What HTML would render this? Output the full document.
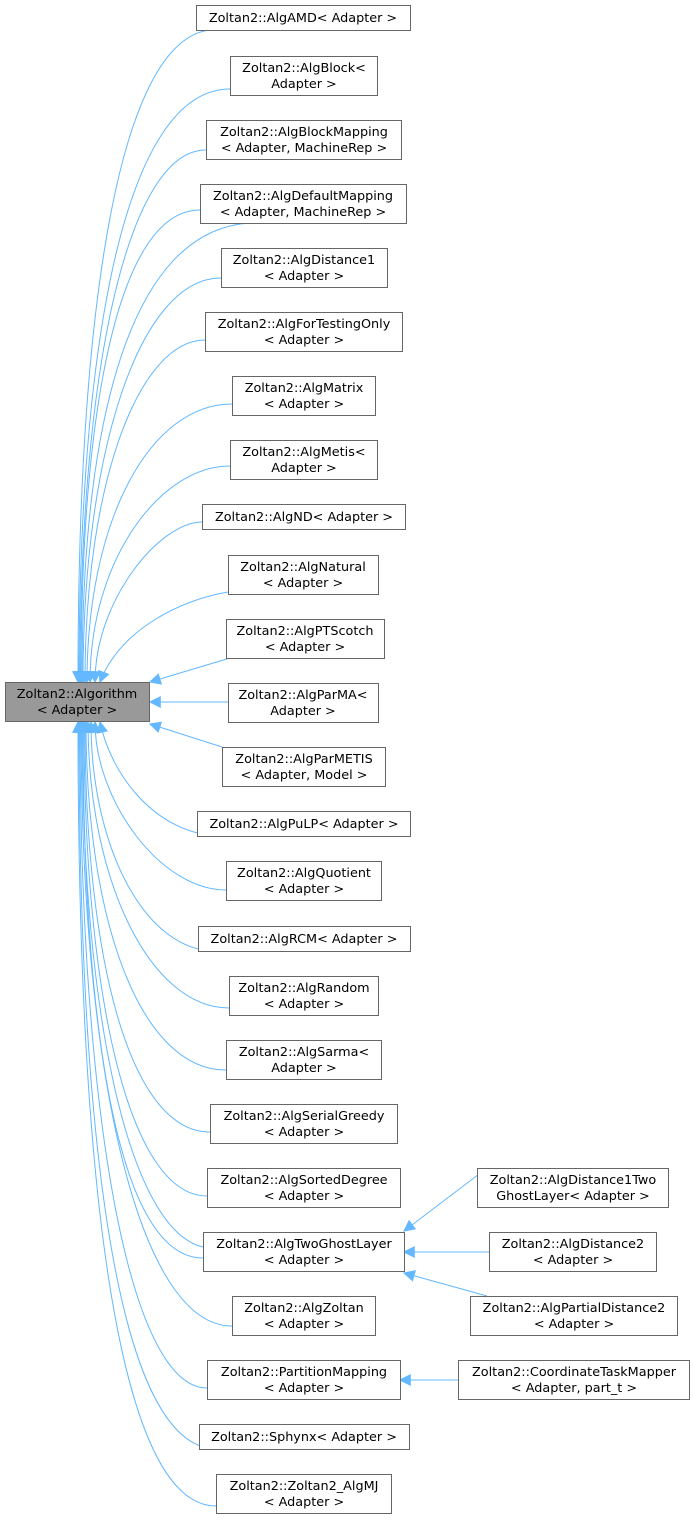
<!DOCTYPE html>
<html><head><meta charset="utf-8"><style>
html,body{margin:0;padding:0;background:#fff}
svg text{font-family:"DejaVu Sans","Liberation Sans",sans-serif;font-size:12.8px;fill:#000}
</style></head><body>
<svg width="693" height="1519" viewBox="0 0 693 1519" xmlns="http://www.w3.org/2000/svg">
<defs><marker id="a" viewBox="0 0 10 10" refX="9" refY="5" markerWidth="12" markerHeight="12" markerUnits="userSpaceOnUse" orient="auto"><path d="M0,0 L10,5 L0,10 z" fill="#63b8ff"/></marker></defs>
<g fill="none" stroke="#63b8ff" stroke-width="1" marker-end="url(#a)">
<path d="M210,30 C120,40 78,300 78,682"/>
<path d="M230,89 C130,89 79,320 79,682"/>
<path d="M206,150 C130,150 80,360 80,682"/>
<path d="M200,210 C120,210 81,400 81,682"/>
<path d="M250,223 C130,230 82,420 82,682"/>
<path d="M221,278 C140,278 83,450 83,682"/>
<path d="M205,340 C140,340 85,480 85,682"/>
<path d="M232,404 C150,404 87,520 87,682"/>
<path d="M230,466 C160,466 90,560 90,682"/>
<path d="M202,522 C160,522 95,600 95,682"/>
<path d="M228,592 C180,600 120,630 100,682"/>
<path d="M230,658 L150,682"/>
<path d="M228,702 L150,702"/>
<path d="M222,747 L150,724"/>
<path d="M215,836 C150,830 110,770 100,722"/>
<path d="M226,890 C160,890 95,800 95,722"/>
<path d="M210,951 C140,945 91,840 91,722"/>
<path d="M229,1008 C150,1008 88,880 88,722"/>
<path d="M226,1070 C140,1070 86,920 86,722"/>
<path d="M210,1132 C130,1132 85,960 85,722"/>
<path d="M207,1196 C130,1196 84,1000 84,722"/>
<path d="M203,1258 C120,1258 83,1040 83,722"/>
<path d="M203,1247 C130,1230 82,1020 82,722"/>
<path d="M232,1326 C140,1326 81,1080 81,722"/>
<path d="M207,1388 C130,1388 80,1120 80,722"/>
<path d="M215,1449 C120,1445 79,1160 79,722"/>
<path d="M216,1506 C120,1506 78,1200 78,722"/>
<path d="M487,1168 L404,1231"/>
<path d="M489,1252 L404,1252"/>
<path d="M487,1296 L404,1273"/>
<path d="M458,1380 L400,1380"/>
</g>
<g fill="#fff" stroke="#666" stroke-width="1">
<rect x="5.5" y="682.5" width="144" height="39" fill="#999"/>
<rect x="196.5" y="5.5" width="214" height="25"/>
<rect x="230.5" y="56.5" width="147" height="39"/>
<rect x="206.5" y="120.5" width="195" height="39"/>
<rect x="200.5" y="184.5" width="206" height="39"/>
<rect x="221.5" y="248.5" width="166" height="39"/>
<rect x="205.5" y="312.5" width="197" height="39"/>
<rect x="232.5" y="376.5" width="143" height="39"/>
<rect x="230.5" y="440.5" width="147" height="39"/>
<rect x="202.5" y="504.5" width="203" height="25"/>
<rect x="228.5" y="555.5" width="150" height="39"/>
<rect x="226.5" y="619.5" width="158" height="39"/>
<rect x="228.5" y="683.5" width="150" height="39"/>
<rect x="222.5" y="747.5" width="163" height="39"/>
<rect x="197.5" y="811.5" width="213" height="25"/>
<rect x="226.5" y="861.5" width="155" height="39"/>
<rect x="198.5" y="926.5" width="212" height="25"/>
<rect x="229.5" y="976.5" width="149" height="39"/>
<rect x="226.5" y="1040.5" width="155" height="39"/>
<rect x="210.5" y="1104.5" width="187" height="39"/>
<rect x="207.5" y="1168.5" width="193" height="39"/>
<rect x="203.5" y="1232.5" width="201" height="39"/>
<rect x="232.5" y="1296.5" width="143" height="39"/>
<rect x="207.5" y="1360.5" width="193" height="39"/>
<rect x="199.5" y="1424.5" width="210" height="25"/>
<rect x="216.5" y="1474.5" width="175" height="39"/>
<rect x="477.5" y="1168.5" width="191" height="39"/>
<rect x="489.5" y="1232.5" width="167" height="39"/>
<rect x="470.5" y="1296.5" width="207" height="39"/>
<rect x="458.5" y="1360.5" width="231" height="39"/>
</g>
<g text-anchor="middle">
<text x="77" y="698">Zoltan2::Algorithm</text><text x="77" y="714">&lt; Adapter &gt;</text>
<text x="303" y="22">Zoltan2::AlgAMD&lt; Adapter &gt;</text>
<text x="304" y="72">Zoltan2::AlgBlock&lt;</text><text x="304" y="88">Adapter &gt;</text>
<text x="304" y="136">Zoltan2::AlgBlockMapping</text><text x="304" y="152">&lt; Adapter, MachineRep &gt;</text>
<text x="303" y="200">Zoltan2::AlgDefaultMapping</text><text x="303" y="216">&lt; Adapter, MachineRep &gt;</text>
<text x="304" y="264">Zoltan2::AlgDistance1</text><text x="304" y="280">&lt; Adapter &gt;</text>
<text x="304" y="328">Zoltan2::AlgForTestingOnly</text><text x="304" y="344">&lt; Adapter &gt;</text>
<text x="304" y="392">Zoltan2::AlgMatrix</text><text x="304" y="408">&lt; Adapter &gt;</text>
<text x="304" y="456">Zoltan2::AlgMetis&lt;</text><text x="304" y="472">Adapter &gt;</text>
<text x="304" y="521">Zoltan2::AlgND&lt; Adapter &gt;</text>
<text x="303" y="571">Zoltan2::AlgNatural</text><text x="303" y="587">&lt; Adapter &gt;</text>
<text x="305" y="635">Zoltan2::AlgPTScotch</text><text x="305" y="651">&lt; Adapter &gt;</text>
<text x="303" y="699">Zoltan2::AlgParMA&lt;</text><text x="303" y="715">Adapter &gt;</text>
<text x="304" y="763">Zoltan2::AlgParMETIS</text><text x="304" y="779">&lt; Adapter, Model &gt;</text>
<text x="304" y="828">Zoltan2::AlgPuLP&lt; Adapter &gt;</text>
<text x="304" y="877">Zoltan2::AlgQuotient</text><text x="304" y="893">&lt; Adapter &gt;</text>
<text x="304" y="943">Zoltan2::AlgRCM&lt; Adapter &gt;</text>
<text x="304" y="992">Zoltan2::AlgRandom</text><text x="304" y="1008">&lt; Adapter &gt;</text>
<text x="304" y="1056">Zoltan2::AlgSarma&lt;</text><text x="304" y="1072">Adapter &gt;</text>
<text x="304" y="1120">Zoltan2::AlgSerialGreedy</text><text x="304" y="1136">&lt; Adapter &gt;</text>
<text x="304" y="1184">Zoltan2::AlgSortedDegree</text><text x="304" y="1200">&lt; Adapter &gt;</text>
<text x="304" y="1248">Zoltan2::AlgTwoGhostLayer</text><text x="304" y="1264">&lt; Adapter &gt;</text>
<text x="304" y="1312">Zoltan2::AlgZoltan</text><text x="304" y="1328">&lt; Adapter &gt;</text>
<text x="304" y="1376">Zoltan2::PartitionMapping</text><text x="304" y="1392">&lt; Adapter &gt;</text>
<text x="304" y="1441">Zoltan2::Sphynx&lt; Adapter &gt;</text>
<text x="304" y="1490">Zoltan2::Zoltan2_AlgMJ</text><text x="304" y="1506">&lt; Adapter &gt;</text>
<text x="573" y="1184">Zoltan2::AlgDistance1Two</text><text x="573" y="1200">GhostLayer&lt; Adapter &gt;</text>
<text x="573" y="1248">Zoltan2::AlgDistance2</text><text x="573" y="1264">&lt; Adapter &gt;</text>
<text x="574" y="1312">Zoltan2::AlgPartialDistance2</text><text x="574" y="1328">&lt; Adapter &gt;</text>
<text x="574" y="1376">Zoltan2::CoordinateTaskMapper</text><text x="574" y="1392">&lt; Adapter, part_t &gt;</text>
</g>
</svg>
</body></html>
